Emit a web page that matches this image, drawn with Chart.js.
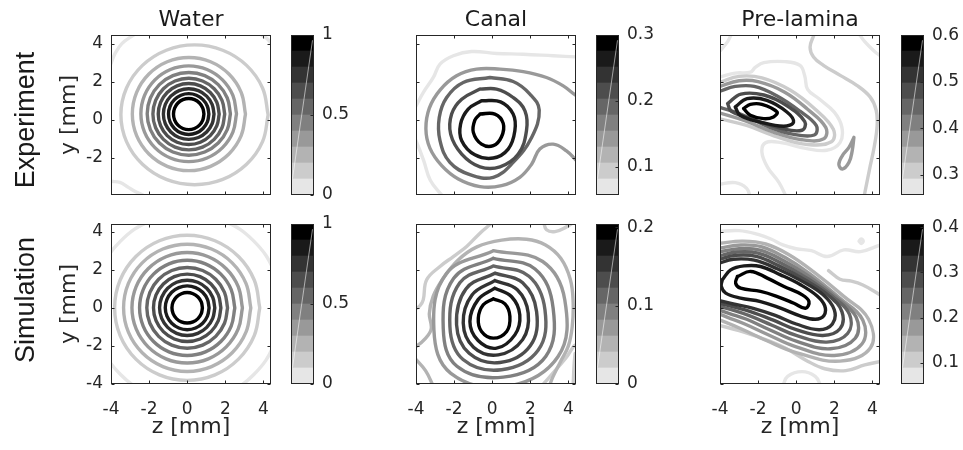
<!DOCTYPE html>
<html><head><meta charset="utf-8">
<script src="https://cdn.jsdelivr.net/npm/chart.js@4.4.1/dist/chart.umd.min.js"></script>
<style>
html,body{margin:0;padding:0;background:#fff;}
body{width:963px;height:450px;overflow:hidden;position:relative;font-family:'DejaVu Sans',sans-serif;}
canvas{position:absolute;}
.lbl{position:absolute;color:#1a1a1a;white-space:nowrap;line-height:1;}
</style></head><body>
<script>
// ---------- data ----------
const colTitles = ['Water', 'Canal', 'Pre-lamina'];
const rowTitles = ['Experiment', 'Simulation'];
const rowTitleCenters = [120, 300];
const xTicks = [-4, -2, 0, 2, 4];
const yTicksTop = [-2, 0, 2, 4];
const yTicksBottom = [-4, -2, 0, 2, 4];
const xRange = [-4, 4.4];
const yRangeTop = [-3.95, 4.45];
const yRangeBottom = [-4, 4.4];
const cbLimits = [[0, 1], [0.057, 0.3], [0.257, 0.601], [0, 1], [0, 0.204], [0.053, 0.407]];
const cbTicks = [[0, 0.5, 1], [0.1, 0.2, 0.3], [0.3, 0.4, 0.5, 0.6], [0, 0.5, 1], [0, 0.1, 0.2], [0.1, 0.2, 0.3, 0.4]];
const nBands = 10;

// unit ring outline used for the near-circular contours
const ringShape = [[1,0],[0.924,0.383],[0.707,0.707],[0.383,0.924],[0,1],[-0.383,0.924],[-0.707,0.707],[-0.924,0.383],[-1,0],[-0.924,-0.383],[-0.707,-0.707],[-0.383,-0.924],[0,-1],[0.383,-0.924],[0.707,-0.707],[0.924,-0.383]];

// rings: [level, zLeft, zRight, yTop, yBottom]
const waterExpRings = [
  [1, -3.48, 4.25, 3.93, -3.41],
  [2, -2.88, 3.06, 3.27, -2.67],
  [3, -2.43, 2.59, 2.83, -2.20],
  [4, -2.10, 2.27, 2.48, -1.86],
  [5, -1.80, 1.97, 2.18, -1.58],
  [6, -1.52, 1.68, 1.90, -1.30],
  [7, -1.25, 1.41, 1.63, -1.03],
  [8, -0.98, 1.14, 1.37, -0.77],
  [9, -0.72, 0.88, 1.12, -0.52]
];
// lines: [level, closed, [[z,y],...]]
const waterExpLines = [
  [0, 0, [[-4.1,2.7],[-4,2.96],[-3.79,3.47],[-3.43,4.0],[-2.82,4.45],[-2.6,4.6]]],
  [0, 0, [[3.75,4.6],[3.95,4.42],[4.2,4.25],[4.5,3.9]]],
  [0, 0, [[-4.1,-3.2],[-4,-3.23],[-3.53,-3.29],[-3.09,-3.55],[-2.65,-3.81],[-2.3,-3.97],[-2.2,-4.1]]]
];
const waterSimRings = [
  [0, -4.95, 4.95, 4.95, -4.95],
  [1, -3.81, 3.81, 3.81, -3.81],
  [2, -3.34, 3.34, 3.34, -3.34],
  [3, -2.90, 2.90, 2.90, -2.90],
  [4, -2.50, 2.50, 2.50, -2.50],
  [5, -2.12, 2.12, 2.12, -2.12],
  [6, -1.77, 1.77, 1.77, -1.77],
  [7, -1.45, 1.45, 1.45, -1.45],
  [8, -1.15, 1.15, 1.15, -1.15],
  [9, -0.80, 0.80, 0.80, -0.80]
];
const waterSimLines = [];
const canalExpLines = [
  [9, 1, [[-0.64,0.30],[0.14,0.30],[0.58,-0.19],[0.49,-0.89],[0.06,-1.36],[-0.56,-1.28],[-0.99,-0.66],[-0.91,-0.02]]],
  [8, 1, [[-0.56,1.0],[0.44,0.94],[1.1,0.3],[1.19,-0.58],[0.84,-1.54],[0.06,-2.01],[-0.91,-1.84],[-1.6,-1.1],[-1.66,-0.23],[-1.26,0.56]]],
  [6, 1, [[-0.64,1.61],[0.23,1.61],[1.1,1.17],[1.72,0.47],[1.8,-0.58],[1.37,-1.8],[0.41,-2.47],[-0.64,-2.47],[-1.6,-1.8],[-2.18,-0.75],[-2.13,0.3],[-1.6,1.08]]],
  [5, 1, [[-0.12,2.22],[1.1,2.01],[1.98,1.35],[2.47,0.51],[2.07,-0.93],[1.1,-2.24],[0.06,-3.02],[-1.17,-2.88],[-2.22,-2.24],[-2.74,-1.1],[-2.78,0.12],[-2.39,1.17],[-1.52,1.96]]],
  [3, 0, [[4.5,1.32],[4.43,1.26],[3.73,1.78],[2.85,2.22],[1.63,2.53],[0.41,2.66],[-0.82,2.66],[-1.87,2.31],[-2.74,1.56],[-3.3,0.61],[-3.48,-0.49],[-3.27,-1.49],[-2.65,-2.41],[-1.78,-3.11],[-0.64,-3.51],[0.49,-3.46],[1.45,-3.02],[2.07,-2.33],[2.5,-1.54],[3.2,-1.28],[3.9,-1.63],[4.43,-2.15],[4.5,-2.2]]],
  [0, 0, [[-4.1,0.6],[-4,0.73],[-3.62,1.43],[-3.09,2.22],[-2.74,2.92],[-2.04,3.36],[-1.08,3.58],[0.23,3.48],[1.63,3.44],[3.2,3.36],[4.43,3.3],[4.5,3.3]]],
  [0, 0, [[-4.1,-0.95],[-4,-1.1],[-3.6,-2.13],[-3.25,-3.18],[-2.64,-3.97],[-2.55,-4.1]]]
];
const canalSimLines = [
  [9, 1, [[0.06,0.47],[0.67,0.21],[0.93,-0.45],[0.76,-1.24],[0.06,-1.59],[-0.56,-1.24],[-0.73,-0.54],[-0.47,0.16]]],
  [8, 1, [[0.14,1.03],[1.02,0.58],[1.45,-0.37],[1.19,-1.42],[0.23,-2.12],[-0.74,-1.72],[-1.17,-0.72],[-0.74,0.43]]],
  [7, 1, [[0.14,1.43],[1.32,0.95],[1.89,-0.28],[1.6,-1.67],[0.32,-2.47],[-0.98,-2.07],[-1.52,-0.8],[-1.06,0.67]]],
  [6, 1, [[0.14,1.82],[1.6,1.31],[2.33,-0.19],[2.0,-1.99],[0.41,-2.87],[-1.21,-2.39],[-1.87,-0.89],[-1.38,0.99]]],
  [5, 1, [[0.06,2.2],[1.93,1.66],[2.77,-0.1],[2.41,-2.23],[0.49,-3.25],[-1.53,-2.71],[-2.22,-0.98],[-1.7,1.31]]],
  [4, 1, [[0.06,2.6],[2.25,2.04],[3.2,-0.02],[2.81,-2.55],[0.58,-3.64],[-1.85,-3.07],[-2.57,-1.07],[-2.02,1.55]]],
  [3, 1, [[0.06,3.0],[2.65,2.43],[3.81,0.42],[3.46,-2.56],[0.76,-4.13],[-2.17,-3.44],[-3.06,-1.15],[-2.41,1.79]]],
  [2, 0, [[-4.1,-2.0],[-4,-2.03],[-3.5,-1.6],[-3.2,-1.1],[-3.3,-0.3],[-3.1,0.6],[-2.6,1.5],[-1.8,2.5],[-0.8,3.2],[0.5,3.55],[1.8,3.6],[2.8,3.3],[3.6,2.6],[4.1,1.5],[4.25,0.3],[4.2,-1.0],[4.0,-2.0],[3.6,-2.8],[3.2,-3.6],[3.0,-4.1]]],
  [1, 0, [[-4.1,-0.1],[-3.8,0.1],[-3.62,0.42],[-3.44,1.47],[-2.74,2.17],[-2.04,2.69],[-1.34,3.22],[-0.64,3.92],[-0.12,4.37],[0.0,4.5]]],
  [1, 0, [[2.7,4.5],[2.85,4.1],[3.3,4.0],[3.9,4.25],[4.3,4.5]]],
  [2, 0, [[-4.1,-2.6],[-3.5,-3.3],[-3.1,-4.1]]],
  [1, 0, [[2.6,-4.1],[3.3,-3.3],[3.9,-2.6],[4.3,-2.0],[4.5,-1.9]]],
  [1, 0, [[4.25,-4.1],[4.3,-3.0],[4.35,-2.4]]]
];
const preExpLines = [
  [9, 1, [[-2.76,0.59],[-2.41,0.81],[-1.8,0.81],[-1.01,0.41],[-1.19,0.15],[-1.71,0.06],[-2.41,0.24]]],
  [8, 1, [[-3.2,0.67],[-2.58,1.11],[-1.54,1.02],[-0.49,0.41],[-0.14,-0.12],[-0.66,-0.34],[-1.89,-0.12],[-2.94,0.24]]],
  [6, 1, [[-3.6,0.85],[-2.9,1.35],[-1.7,1.3],[-0.5,0.75],[0.45,-0.1],[0.3,-0.55],[-0.8,-0.45],[-2.2,0.0],[-3.4,0.45]]],
  [5, 0, [[-4.1,1.45],[-4,1.5],[-3.2,1.75],[-2.2,1.75],[-1.0,1.25],[0.2,0.45],[1.05,-0.3],[0.95,-0.8],[-0.2,-0.75],[-1.5,-0.35],[-2.8,0.25],[-4,0.65],[-4.1,0.68]]],
  [3, 0, [[-4.1,1.7],[-4,1.75],[-3,2.05],[-2,2.0],[-0.6,1.45],[0.6,0.55],[1.55,-0.4],[1.45,-1.0],[0.3,-1.05],[-1.2,-0.65],[-2.7,-0.05],[-4,0.35],[-4.1,0.37]]],
  [1, 0, [[-4.1,1.95],[-4,1.97],[-3,2.28],[-1.8,2.2],[-0.3,1.55],[1.0,0.55],[1.95,-0.5],[1.85,-1.15],[0.6,-1.3],[-1.0,-0.9],[-2.6,-0.3],[-4,0.05],[-4.1,0.06]]],
  [0, 0, [[-4.1,2.25],[-4,2.25],[-3.2,2.45],[-2.4,2.5],[-2.15,2.75],[-1.7,3.0],[-0.6,3.05],[0.2,2.85],[0.45,2.3],[0.6,1.6],[1.2,1.1],[2.0,0.4],[2.4,-0.4],[2.3,-1.2],[1.6,-1.6],[0.5,-1.5],[-0.8,-1.2],[-1.6,-1.2],[-1.8,-1.7],[-1.5,-2.5],[-0.9,-3.3],[-0.5,-4.1]]],
  [0, 0, [[-4.1,-3.4],[-3.2,-3.3],[-2.6,-3.6],[-2.4,-4.1]]],
  [0, 0, [[-4.1,3.55],[-4,3.62],[-3.6,4.1],[-3.4,4.5]]],
  [1, 0, [[0.95,4.5],[0.73,3.82],[0.91,3.3],[1.43,2.86],[2.31,2.33],[3.18,1.81],[3.88,1.2],[4.2,0.5],[4.25,-0.3],[4.1,-1.4],[3.85,-2.6],[3.55,-4.1]]],
  [0, 0, [[3.3,4.5],[3.6,4.1],[4.1,3.6],[4.5,3.3]]],
  [3, 1, [[3.03,-0.93],[2.77,-1.45],[2.42,-1.89],[2.24,-2.33],[2.42,-2.59],[2.77,-2.24],[2.94,-1.63]]]
];
const preSimLines = [
  [9, 1, [[-3.09,1.64],[-2.39,1.91],[-1.52,1.56],[-0.64,1.12],[0.32,0.68],[0.67,0.33],[0.49,-0.02],[-0.12,0.24],[-0.99,0.59],[-1.87,0.86],[-2.92,1.03],[-3.18,1.29]]],
  [8, 1, [[-3.88,1.47],[-3.44,1.99],[-2.74,2.2],[-1.87,2.17],[-0.82,1.73],[0.23,1.21],[1.1,0.62],[1.5,0.1],[1.45,-0.42],[1.0,-0.6],[0.2,-0.42],[-0.82,-0.02],[-1.87,0.33],[-2.92,0.51],[-3.7,0.77],[-3.93,1.12]]],
  [7, 0, [[-4.1,2.32],[-3.3,2.55],[-2.2,2.5],[-1.0,2.05],[0.3,1.4],[1.4,0.7],[2.0,-0.1],[1.9,-0.85],[1.2,-1.15],[0.0,-0.85],[-1.1,-0.4],[-2.3,-0.02],[-3.3,0.2],[-4.1,0.4]]],
  [6, 0, [[-4.1,2.52],[-3.2,2.75],[-2.1,2.7],[-0.9,2.2],[0.4,1.5],[1.7,0.65],[2.4,-0.2],[2.3,-1.1],[1.4,-1.45],[0.0,-1.15],[-1.2,-0.65],[-2.4,-0.2],[-3.3,0.05],[-4.1,0.25]]],
  [5, 0, [[-4.1,2.72],[-3.1,2.93],[-2.0,2.87],[-0.8,2.35],[0.5,1.6],[1.9,0.6],[2.8,-0.35],[2.7,-1.35],[1.6,-1.8],[0.0,-1.45],[-1.3,-0.9],[-2.5,-0.4],[-3.4,-0.1],[-4.1,0.1]]],
  [4, 0, [[-4.1,2.92],[-3.0,3.1],[-1.9,3.03],[-0.7,2.5],[0.6,1.7],[2.1,0.55],[3.15,-0.5],[3.1,-1.6],[1.8,-2.15],[0.0,-1.75],[-1.4,-1.15],[-2.6,-0.6],[-3.5,-0.3],[-4.1,-0.1]]],
  [3, 0, [[-4.1,3.12],[-2.9,3.3],[-1.8,3.2],[-0.6,2.65],[0.7,1.8],[2.3,0.5],[3.5,-0.65],[3.45,-1.9],[2.0,-2.5],[0.0,-2.05],[-1.5,-1.4],[-2.7,-0.85],[-3.6,-0.5],[-4.1,-0.3]]],
  [2, 0, [[-4.1,3.38],[-2.8,3.5],[-1.6,3.35],[-0.4,2.8],[0.9,1.9],[2.5,0.6],[3.8,-0.6],[3.9,-2.1],[2.3,-2.8],[0.0,-2.35],[-1.6,-1.7],[-2.9,-1.1],[-4.1,-0.6]]],
  [0, 0, [[-4.1,4.0],[-3.0,4.05],[-2.0,3.85],[-1.3,3.6],[-0.7,3.3],[0.0,3.1],[0.8,3.0],[1.63,2.69],[2.5,3.04],[3.38,2.95],[4.43,3.3],[4.5,3.3]]],
  [0, 1, [[3.3,3.5],[3.41,3.62],[3.52,3.5],[3.41,3.38]]],
  [1, 0, [[1.7,1.95],[2.3,1.5],[2.9,1.4],[3.5,1.2],[4.2,0.8],[4.5,0.6]]],
  [1, 0, [[-4.1,-0.9],[-3.0,-1.2],[-1.8,-1.6],[-0.6,-2.1],[0.6,-2.8],[1.5,-3.2],[2.6,-3.3],[3.6,-3.0],[4.5,-2.8]]],
  [0, 0, [[-0.7,-4.1],[-0.45,-3.6],[0.3,-3.35],[1.0,-3.6],[1.3,-4.1]]]
];

const panelRings = [[waterExpRings, [], []], [waterSimRings, [], []]];
const panelLines = [[waterExpLines, canalExpLines, preExpLines], [waterSimLines, canalSimLines, preSimLines]];

// ---------- layout / style ----------
const S = 160;
const BX = [111, 416, 720];
const BY = [35, 224];
const CBX = [291, 596, 901];
const CBW = 23;
const TXT = '#262626';
const TICK_FS = 17, LABEL_FS = 22;
Chart.defaults.font.family = "'DejaVu Sans', sans-serif";
Chart.defaults.color = TXT;

function gray(i) { const g = Math.round(230 * (9 - i) / 9); return 'rgb(' + g + ',' + g + ',' + g + ')'; }
function fmt(v) { return String(Math.round(v * 100) / 100); }

const framePlugin = {
  id: 'frame',
  afterDraw(chart) {
    const { ctx, chartArea: a, scales } = chart;
    ctx.save();
    ctx.strokeStyle = TXT; ctx.lineWidth = 1;
    const L = Math.round(a.left) + 0.5, T = Math.round(a.top) + 0.5, R = Math.round(a.right) - 0.5, B = Math.round(a.bottom) - 0.5;
    ctx.beginPath();
    const tl = 3;
    scales.x.ticks.forEach(t => {
      const p = Math.round(scales.x.getPixelForValue(t.value)) + 0.5;
      ctx.moveTo(p, B); ctx.lineTo(p, B - tl); ctx.moveTo(p, T); ctx.lineTo(p, T + tl);
    });
    scales.y.ticks.forEach(t => {
      const p = Math.round(scales.y.getPixelForValue(t.value)) + 0.5;
      ctx.moveTo(L, p); ctx.lineTo(L + tl, p); ctx.moveTo(R, p); ctx.lineTo(R - tl, p);
    });
    ctx.stroke();
    ctx.strokeRect(L, T, R - L, B - T);
    ctx.restore();
  }
};
const cbPlugin = {
  id: 'cbframe',
  afterDraw(chart) {
    const { ctx, chartArea: a, scales } = chart;
    ctx.save();
    const L = Math.round(a.left) + 0.5, T = Math.round(a.top) + 0.5, R = Math.round(a.right) - 0.5, B = Math.round(a.bottom) - 0.5;
    ctx.strokeStyle = 'rgba(255,255,255,0.55)'; ctx.lineWidth = 1;
    ctx.beginPath(); ctx.moveTo(L + 1, B - 0.1 * (B - T)); ctx.lineTo(R - 1, T + 0.03 * (B - T)); ctx.stroke();
    ctx.strokeStyle = TXT;
    ctx.beginPath();
    scales.y.ticks.forEach(t => {
      const p = Math.round(scales.y.getPixelForValue(t.value)) + 0.5;
      ctx.moveTo(R, p); ctx.lineTo(R - 3, p);
    });
    ctx.stroke();
    ctx.strokeRect(L, T, R - L, B - T);
    ctx.restore();
  }
};

function addCanvas(left, top, w, h) {
  const cv = document.createElement('canvas');
  cv.width = w; cv.height = h;
  cv.style.left = left + 'px'; cv.style.top = top + 'px';
  cv.style.width = w + 'px'; cv.style.height = h + 'px';
  document.body.appendChild(cv);
  return cv;
}
function lineDs(level, pts) {
  return { data: pts, showLine: true, borderColor: gray(level), borderWidth: 3.4, pointRadius: 0, tension: 0.4, fill: false, clip: 0, borderCapStyle: 'round', borderJoinStyle: 'round' };
}

function makePanel(r, c) {
  const padL = c === 0 ? 80 : 30, padT = 20, padR = 20, padB = r === 1 ? 66 : 20;
  const W = padL + S + padR, H = padT + S + padB;
  const left = BX[c] - padL, top = BY[r] - padT;
  const cv = addCanvas(left, top, W, H);
  const datasets = [];
  panelLines[r][c].forEach(([lv, closed, p]) => {
    const pts = p.map(([x, y]) => ({ x, y }));
    if (closed) pts.push(pts[0]);
    datasets.push(lineDs(lv, pts));
  });
  panelRings[r][c].forEach(([lv, L, R, T, B]) => {
    const cx = (L + R) / 2, cy = (T + B) / 2, rx = (R - L) / 2, ry = (T - B) / 2;
    const pts = ringShape.map(([u, v]) => ({ x: cx + rx * u, y: cy + ry * v }));
    pts.push(pts[0]);
    datasets.push(lineDs(lv, pts));
  });
  const yr = r === 0 ? yRangeTop : yRangeBottom;
  const yt = r === 0 ? yTicksTop : yTicksBottom;
  const titleCenterX = 69, titleCenterY = 427;
  const halfLH = LABEL_FS * 1.2 / 2;
  new Chart(cv, {
    type: 'scatter',
    data: { datasets },
    options: {
      responsive: false, animation: false, events: [],
      layout: { padding: { left: 0, top: padT, right: padR, bottom: r === 1 ? 0 : padB } },
      plugins: { legend: { display: false }, tooltip: { enabled: false } },
      scales: {
        x: {
          type: 'linear', min: xRange[0], max: xRange[1],
          afterBuildTicks: s => { s.ticks = xTicks.map(v => ({ value: v })); },
          afterFit: s => { s.height = r === 1 ? padB : 0; },
          grid: { display: false, drawTicks: false }, border: { display: false },
          ticks: { display: r === 1, padding: 15, font: { size: TICK_FS }, color: TXT, maxRotation: 0, autoSkip: false },
          title: { display: r === 1, text: 'z [mm]', font: { size: LABEL_FS }, color: TXT, padding: { top: 0, bottom: (top + H) - titleCenterY - halfLH } }
        },
        y: {
          type: 'linear', min: yr[0], max: yr[1],
          afterBuildTicks: s => { s.ticks = yt.map(v => ({ value: v })); },
          afterFit: s => { s.width = padL; },
          grid: { display: false, drawTicks: false }, border: { display: false },
          ticks: { display: c === 0, padding: 8, font: { size: TICK_FS }, color: TXT, autoSkip: false },
          title: { display: c === 0, text: 'y [mm]', font: { size: LABEL_FS }, color: TXT, padding: { top: titleCenterX - left - halfLH, bottom: 0 } }
        }
      }
    },
    plugins: [framePlugin]
  });
}

function makeColorbar(r, c) {
  const k = r * 3 + c;
  const [lo, hi] = cbLimits[k];
  const padL = 10, padT = 20, padB = 20, axW = 50;
  const W = padL + CBW + axW, H = padT + S + padB;
  const cv = addCanvas(CBX[c] - padL, BY[r] - padT, W, H);
  const step = (hi - lo) / nBands;
  const datasets = [];
  for (let i = 0; i < nBands; i++) {
    datasets.push({ data: [[lo + i * step, lo + (i + 1) * step]], backgroundColor: gray(i), borderWidth: 0, barPercentage: 1, categoryPercentage: 1, grouped: false });
  }
  new Chart(cv, {
    type: 'bar',
    data: { labels: [''], datasets },
    options: {
      responsive: false, animation: false, events: [],
      layout: { padding: { left: padL, top: padT, right: 0, bottom: padB } },
      plugins: { legend: { display: false }, tooltip: { enabled: false } },
      scales: {
        x: { display: false },
        y: {
          position: 'right', min: lo, max: hi,
          afterBuildTicks: s => { s.ticks = cbTicks[k].map(v => ({ value: v })); },
          afterFit: s => { s.width = axW; },
          grid: { display: false, drawTicks: false }, border: { display: false },
          ticks: { padding: 8, font: { size: TICK_FS }, color: TXT, callback: v => fmt(v), autoSkip: false }
        }
      }
    },
    plugins: [cbPlugin]
  });
}

for (let r = 0; r < 2; r++) for (let c = 0; c < 3; c++) { makePanel(r, c); makeColorbar(r, c); }

colTitles.forEach((t, c) => {
  const d = document.createElement('div');
  d.className = 'lbl'; d.textContent = t;
  d.style.fontSize = LABEL_FS + 'px';
  d.style.left = (BX[c] + S / 2) + 'px'; d.style.top = '19px';
  d.style.transform = 'translate(-50%,-50%)';
  document.body.appendChild(d);
});
rowTitles.forEach((t, r) => {
  const d = document.createElement('div');
  d.className = 'lbl'; d.textContent = t;
  d.style.fontFamily = "'Liberation Sans', Arial, sans-serif";
  d.style.fontSize = '27px';
  d.style.left = '25px'; d.style.top = rowTitleCenters[r] + 'px';
  d.style.transform = 'translate(-50%,-50%) rotate(-90deg)';
  document.body.appendChild(d);
});
</script>
</body></html>
